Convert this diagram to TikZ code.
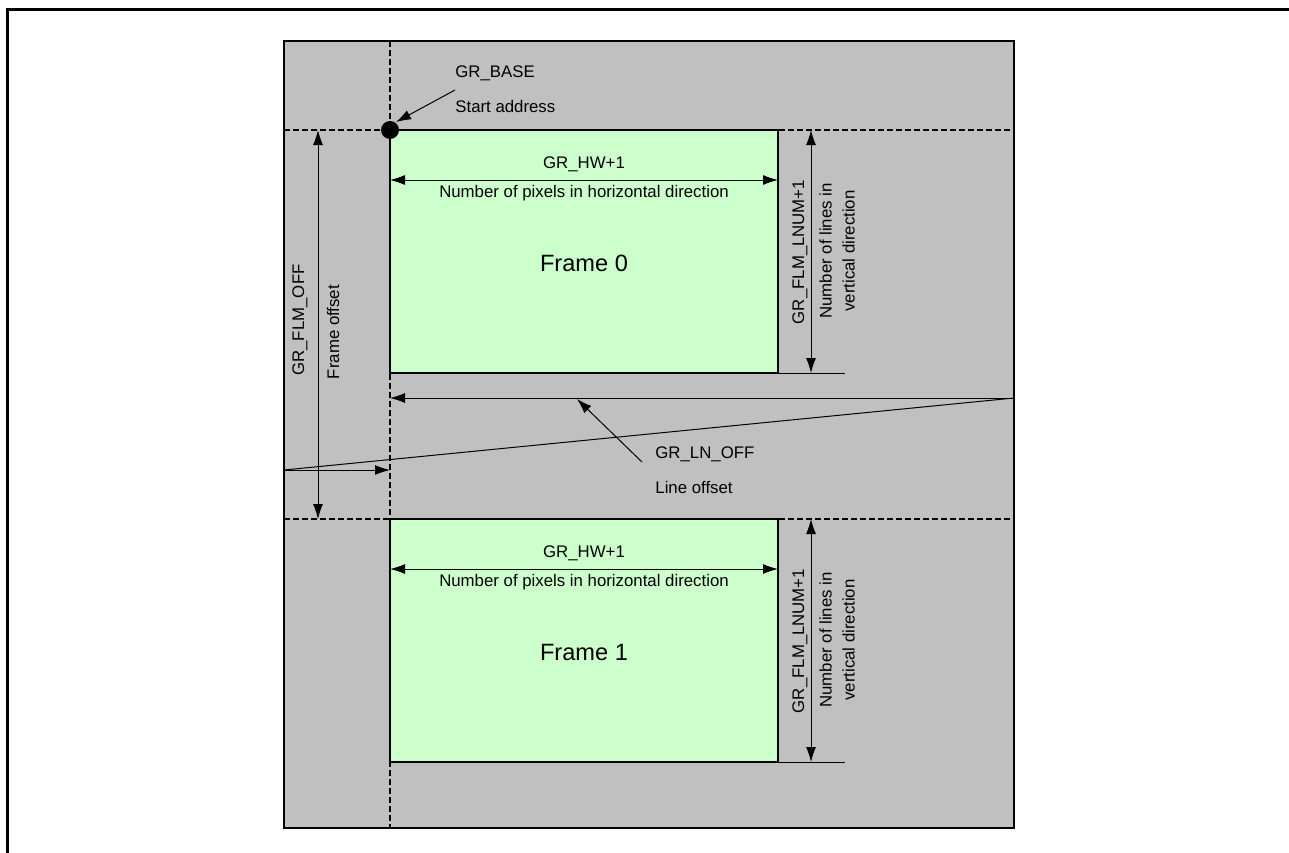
\documentclass[tikz,border=0pt]{standalone}
\usepackage{fontspec}
\setmainfont{Liberation Sans}
\usetikzlibrary{arrows.meta,positioning,calc}
\definecolor{memgray}{HTML}{C0C0C0}
\definecolor{framegreen}{HTML}{CCFFCC}
\tikzset{
  dim/.style={line width=0.5pt,{Latex[length=7.5pt,width=5pt]}-{Latex[length=7.5pt,width=5pt]}},
  ptr/.style={line width=0.5pt,-{Latex[length=7.5pt,width=5pt]}},
  guide/.style={line width=0.9pt,dash pattern=on 3pt off 1.5pt},
  framebox/.style={draw,line width=1pt,fill=framegreen,minimum width=194pt,minimum height=121.5pt,inner sep=0pt,outer sep=0pt,anchor=north west},
  lbl/.style={inner sep=0pt,font=\fontsize{8.4}{11.5}\selectfont},
  big/.style={inner sep=0pt,font=\fontsize{11.8}{14}\selectfont},
}
\begin{document}
\begin{tikzpicture}[x=0.5pt,y=-0.5pt]
\useasboundingbox (0,0) rectangle (1289,852);
\draw[line width=1.5pt] (7,870) -- (7,9) -- (1300,9);
\draw[line width=1pt,fill=memgray] (284,41) rectangle (1014,828);
\draw[guide] (390,41) -- (390,828);
\draw[guide] (284,130) -- (1014,130);
\draw[guide] (284,519) -- (1014,519);
\node[framebox] (frame0) at (390,130) {};
\node[framebox] (frame1) at (390,519) {};
\fill (frame0.north west) circle (4.5pt);
% start address
\node[lbl,anchor=west] (base) at (455,73) {GR\_BASE};
\node[lbl,anchor=west] (start) at (455,106) {Start address};
\coordinate (basetail) at (455,90);
\draw[ptr] (basetail) -- (396,122);
% frame 0
\coordinate (hw0l) at (390,180);
\coordinate (hw0r) at (778,180);
\draw[dim] (hw0l) -- (hw0r);
\node[lbl] (hw0) at (584,164) {GR\_HW+1};
\node[lbl] (px0) at (584,193) {Number of pixels in horizontal direction};
\node[big] (name0) at (584,263) {Frame 0};
\coordinate (ln0t) at (811,130);
\coordinate (ln0b) at (811,373);
\coordinate (ln0e) at (845,373);
\draw[line width=0.5pt] (frame0.south east) -- (ln0e);
\draw[dim] (ln0t) -- (ln0b);
\node[lbl,rotate=90] (lnum0) at (800,252) {GR\_FLM\_LNUM+1};
\node[lbl,rotate=90,align=center] (vl0) at (837,251) {Number of lines in\\vertical direction};
% frame 1
\coordinate (hw1l) at (390,569);
\coordinate (hw1r) at (778,569);
\draw[dim] (hw1l) -- (hw1r);
\node[lbl] (hw1) at (584,553) {GR\_HW+1};
\node[lbl] (px1) at (584,582) {Number of pixels in horizontal direction};
\node[big] (name1) at (584,652) {Frame 1};
\coordinate (ln1t) at (811,519);
\coordinate (ln1b) at (811,762);
\coordinate (ln1e) at (845,762);
\draw[line width=0.5pt] (frame1.south east) -- (ln1e);
\draw[dim] (ln1t) -- (ln1b);
\node[lbl,rotate=90] (lnum1) at (800,641) {GR\_FLM\_LNUM+1};
\node[lbl,rotate=90,align=center] (vl1) at (837,640) {Number of lines in\\vertical direction};
% frame offset
\coordinate (fo0) at (318,130);
\coordinate (fo1) at (318,519);
\draw[dim] (fo0) -- (fo1);
\node[lbl,rotate=90] (flmoff) at (300,320) {GR\_FLM\_OFF};
\node[lbl,rotate=90] (foff) at (333,332) {Frame offset};
% line offset
\coordinate (lnR) at (1014,398);
\coordinate (lnL) at (390,398);
\coordinate (wrapL) at (284,470);
\coordinate (wrapR) at (390,470);
\draw[ptr] (lnR) -- (lnL);
\draw[line width=0.5pt] (lnR) -- (wrapL);
\draw[ptr] (wrapL) -- (wrapR);
\node[lbl,anchor=west] (lnoff) at (655,454) {GR\_LN\_OFF};
\node[lbl,anchor=west] (loff) at (655,487) {Line offset};
\coordinate (lntail) at (642,462);
\draw[ptr] (lntail) -- (577,399);
\end{tikzpicture}
\end{document}
